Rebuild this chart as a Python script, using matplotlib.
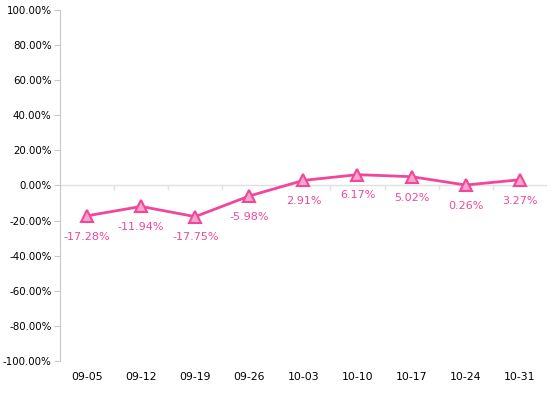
import numpy as np
import matplotlib.pyplot as plt
from matplotlib.ticker import FuncFormatter

dates = ['09-05', '09-12', '09-19', '09-26', '10-03', '10-10', '10-17', '10-24', '10-31']
values = [-17.28, -11.94, -17.75, -5.98, 2.91, 6.17, 5.02, 0.26, 3.27]
yticks = np.arange(-100, 101, 20)

pink = '#f0479a'
grey = '#c8c8c8'

fig = plt.figure(figsize=(5.54, 3.95), dpi=100)
ax = fig.add_axes([0.1083, 0.0861, 0.8787, 0.8886])

x = np.arange(len(dates))
ax.axhline(0, color='#e0e0e0', lw=1, zorder=1)
ax.vlines(np.arange(len(dates) + 1) - 0.5, -2.5, 0, color='#e0e0e0', lw=1, zorder=1)

ax.plot(x, values, color=pink, lw=2, marker='^', markersize=9,
        markerfacecolor='#f7a6c9', markeredgecolor=pink, markeredgewidth=1.5, zorder=3)
for xi, v in zip(x, values):
    ax.annotate(f'{v:.2f}%', (xi, v), xytext=(0, -15), textcoords='offset points',
                ha='center', va='center', fontsize=8, color=pink)

ax.set_xlim(-0.5, len(dates) - 0.5)
ax.set_ylim(-100, 100)
ax.set_yticks(yticks)
ax.yaxis.set_major_formatter(FuncFormatter(lambda v, p: f'{v:.2f}%'))
ax.set_xticks(x)
ax.set_xticklabels(dates)

for s in ['top', 'right', 'bottom']:
    ax.spines[s].set_visible(False)
ax.spines['left'].set_color(grey)
ax.tick_params(axis='y', length=4, color=grey, labelsize=7.4, pad=2)
ax.tick_params(axis='x', length=0, labelsize=7.8, pad=8)

plt.savefig('out.png')
